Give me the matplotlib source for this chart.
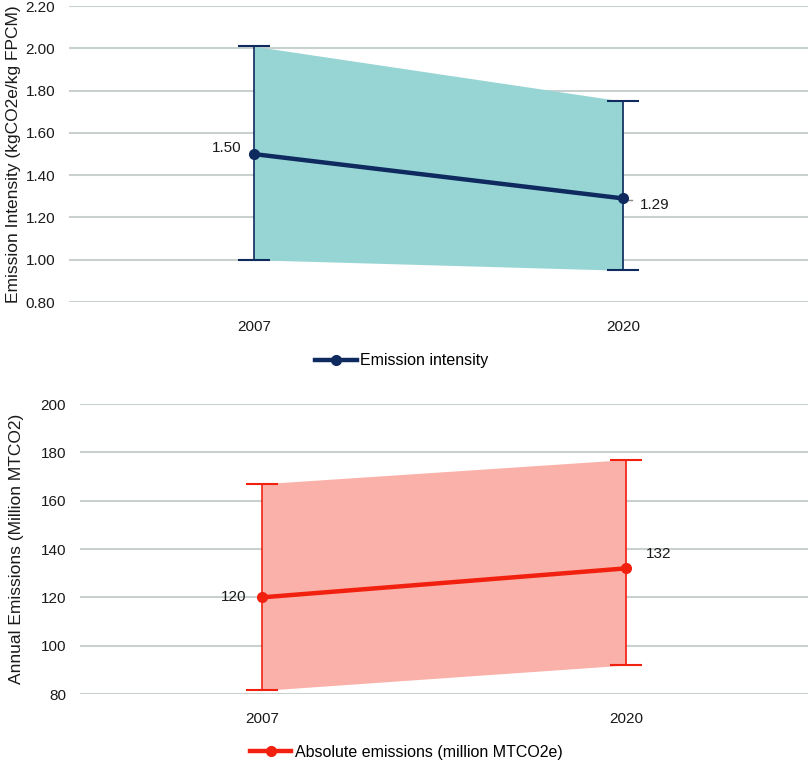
import matplotlib
matplotlib.use("Agg")
import matplotlib.pyplot as plt
from matplotlib.lines import Line2D

plt.rcParams['font.family'] = ['Liberation Sans', 'DejaVu Sans']

years = ['2007', '2020']

# emission intensity (kgCO2e/kg FPCM)
intensity = [1.50, 1.29]
intensity_low = [1.00, 0.95]
intensity_high = [2.01, 1.75]

# absolute emissions (million MTCO2e)
absolute = [120, 132]
absolute_low = [81.5, 92]
absolute_high = [167, 177]

grid_col = '#c9d1cf'
navy = '#0e2a5e'
teal = '#96d5d4'
red = '#f2200f'
pink = '#f9b1a9'

fig = plt.figure(figsize=(8.1, 7.6), dpi=100)
ax1 = fig.add_axes([0.0852, 0.6026, 0.9123, 0.3894])
ax2 = fig.add_axes([0.0988, 0.0868, 0.8987, 0.3816])


def draw(ax, vals, low, high, line_col, fill_col, ylim, yticks, fmt, ylabel, legend_label,
         label_pos, ylabelpad, leg_x):
    x = list(range(len(years)))
    ax.fill_between(x, low, high, color=fill_col, linewidth=0, zorder=1)
    lo_err = [v - l for v, l in zip(vals, low)]
    hi_err = [h - v for v, h in zip(vals, high)]
    ax.errorbar(x, vals, yerr=[lo_err, hi_err], fmt='none', ecolor=line_col,
                elinewidth=1.2, capsize=11.5, capthick=1.5, zorder=3)
    ax.plot(x, vals, color=line_col, linewidth=3.2, marker='o', markersize=7, zorder=4)
    for xi, v, (dx, dy, ha) in zip(x, vals, label_pos):
        ax.annotate(fmt.format(v), (xi, v), xytext=(dx, dy), textcoords='offset points',
                    ha=ha, va='center', fontsize=11, color='#1a1a1a', zorder=5)
    ax.set_xlim(-0.5, 1.5)
    ax.set_ylim(*ylim)
    ax.set_yticks(yticks)
    ax.set_yticklabels([fmt.format(t) for t in yticks])
    ax.set_xticks(x)
    ax.set_xticklabels(years)
    ax.grid(axis='y', color=grid_col, linewidth=1.5, zorder=0)
    ax.set_axisbelow(True)
    for s in ax.spines.values():
        s.set_visible(False)
    ax.tick_params(length=0, labelsize=11, colors='#1a1a1a')
    ax.tick_params(axis='y', pad=10)
    ax.tick_params(axis='x', pad=13)
    ax.set_ylabel(ylabel, fontsize=12.5, color='#1a1a1a', labelpad=ylabelpad)
    handle = Line2D([], [], color=line_col, linewidth=3.2, marker='o', markersize=7)
    ax.legend([handle], [legend_label], loc='upper center', bbox_to_anchor=(leg_x, -0.125),
              frameon=False, fontsize=11.5, handlelength=2.6, handletextpad=0.2)


draw(ax1, intensity, intensity_low, intensity_high, navy, teal, (0.8, 2.2),
     [0.8, 1.0, 1.2, 1.4, 1.6, 1.8, 2.0, 2.2], '{:.2f}',
     'Emission Intensity (kgCO2e/kg FPCM)', 'Emission intensity',
     [(-9, 4, 'right'), (12, -5, 'left')], 3, 0.45)
ax1.plot([1.005, 1.025], [1.285, 1.285], color='#888888', linewidth=1, zorder=2)

draw(ax2, absolute, absolute_low, absolute_high, red, pink, (80, 200),
     [80, 100, 120, 140, 160, 180, 200], '{:.0f}',
     'Annual Emissions (Million MTCO2)', 'Absolute emissions (million MTCO2e)',
     [(-11, 0, 'right'), (14, 10, 'left')], 12, 0.448)

fig.savefig('out.png', dpi=100)
